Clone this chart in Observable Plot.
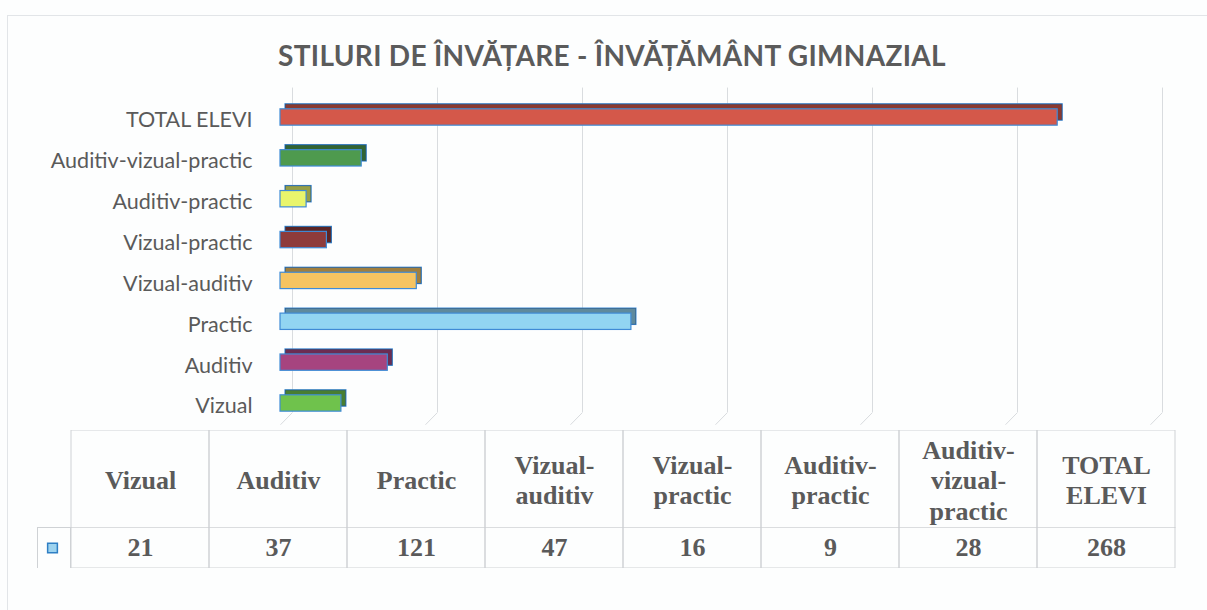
<!DOCTYPE html>
<html><head><meta charset="utf-8">
<script src="https://cdn.jsdelivr.net/npm/d3@7"></script>
<script src="https://cdn.jsdelivr.net/npm/@observablehq/plot@0.6"></script>
<style>
html,body{margin:0;padding:0;background:#fff;}
#wrap{position:relative;width:1207px;height:610px;overflow:hidden;background:#fdfefe;}
#border{position:absolute;left:7px;top:15px;width:1300px;height:700px;border:1px solid #e2e5e8;}
#title{position:absolute;left:0;top:38px;width:1224px;text-align:center;font:bold 28px Lato, sans-serif;color:#5b5b5b;letter-spacing:0.3px;}
.layer{position:absolute;left:0;}
</style></head>
<body><div id="wrap"><div id="border"></div>
<div id="title">STILURI DE ÎNVĂȚARE - ÎNVĂȚĂMÂNT GIMNAZIAL</div>
<div id="bars" class="layer" style="top:0"></div>
<div id="head" class="layer" style="top:430px"></div>
<div id="vals" class="layer" style="top:527px"></div>
</div>
<script>
// ---- data ----
const categories = ["Vizual","Auditiv","Practic","Vizual-auditiv","Vizual-practic","Auditiv-practic","Auditiv-vizual-practic","TOTAL ELEVI"];
const values = [21, 37, 121, 47, 16, 9, 28, 268];
const headerLabels = ["Vizual","Auditiv","Practic","Vizual-\nauditiv","Vizual-\npractic","Auditiv-\npractic","Auditiv-\nvizual-\npractic","TOTAL\nELEVI"];
const gridTicks = [0, 50, 100, 150, 200, 250, 300];
// ---- styles ----
const barColors = ["#6fc24c","#a6447f","#92d5f2","#f6c461","#8e3b3b","#e8f56c","#4e9a4e","#d4584a"];
const edge = "#3f8bd6";
const gridColor = "#d9dcdf";
const tableLine = "#cfd2d5";
const textColor = "#5a5a5a";

const rows = categories.map((c, i) => ({cat: c, value: values[i], i}));
const xDomain = [0, 300];
const W = 1207, mL = 280, mR = 57;
const pxPerUnit = (W - mL - mR) / (xDomain[1] - xDomain[0]);
const depth = 5, gridDepth = 12;
const half = 0.2;

const colorScale = {domain: categories, range: barColors};

const bars = Plot.plot({
  width: W, height: 440,
  marginLeft: mL, marginRight: mR, marginTop: 0, marginBottom: 0,
  x: {domain: xDomain, axis: null},
  y: {domain: [-0.6, 7.8], range: [427.5, 84.3], axis: null},
  color: colorScale,
  style: {background: "transparent"},
  marks: [
    Plot.ruleX(gridTicks, {x: d => d, y1: -0.22, y2: 7.72, dx: gridDepth, stroke: gridColor, strokeWidth: 1}),
    Plot.link(gridTicks, {x1: d => d + gridDepth / pxPerUnit, x2: d => d, y1: -0.22, y2: -0.52, stroke: gridColor, strokeWidth: 1}),
    Plot.rect(rows, {x1: 0, x2: "value", y1: d => d.i - half, y2: d => d.i + half, dx: depth, dy: -depth, fill: "cat", stroke: edge, strokeWidth: 1.2}),
    Plot.rect(rows, {x1: 0, x2: "value", y1: d => d.i - half, y2: d => d.i + half, dx: depth, dy: -depth, fill: "#000", fillOpacity: 0.35}),
    Plot.rect(rows, {x1: 0, x2: "value", y1: d => d.i - half, y2: d => d.i + half, fill: "cat", stroke: edge, strokeWidth: 1.2}),
    Plot.axisY(categories.map((c, i) => i), {tickFormat: i => categories[i], tickSize: 0, tickPadding: 28, dy: 3, fontSize: 21.5, fontFamily: "Lato", fill: textColor, label: null})
  ]
});
document.getElementById("bars").append(bars);

const tW = 1207, tL = 70, tR = 32;
const head = Plot.plot({
  width: tW, height: 98,
  marginLeft: tL, marginRight: tR, marginTop: 0, marginBottom: 0,
  x: {domain: categories, padding: 0, axis: null},
  style: {background: "transparent"},
  marks: [
    Plot.cell(categories, {x: d => d, fill: "none", stroke: tableLine}),
    Plot.text(categories, {x: d => d, text: (d, i) => headerLabels[i], fontSize: 26, fontWeight: "bold", fontFamily: "Liberation Serif", fill: textColor, lineHeight: 1.17})
  ]
});
document.getElementById("head").append(head);

const vals = Plot.plot({
  width: tW, height: 41,
  marginLeft: tL, marginRight: tR, marginTop: 0, marginBottom: 0,
  x: {domain: categories, padding: 0, axis: null},
  style: {background: "transparent"},
  marks: [
    Plot.frame({insetLeft: -33, insetRight: (tW - tL - tR), stroke: tableLine}),
    Plot.cell(rows, {x: "cat", fill: "none", stroke: tableLine}),
    Plot.dot([0], {frameAnchor: "left", dx: -18, symbol: "square", r: 5.5, fill: "#9dd3ef", stroke: "#2f7fc4", strokeWidth: 1.5}),
    Plot.text(rows, {x: "cat", text: d => String(d.value), fontSize: 26, fontWeight: "bold", fontFamily: "Liberation Serif", fill: textColor})
  ]
});
document.getElementById("vals").append(vals);
</script>
</body></html>
